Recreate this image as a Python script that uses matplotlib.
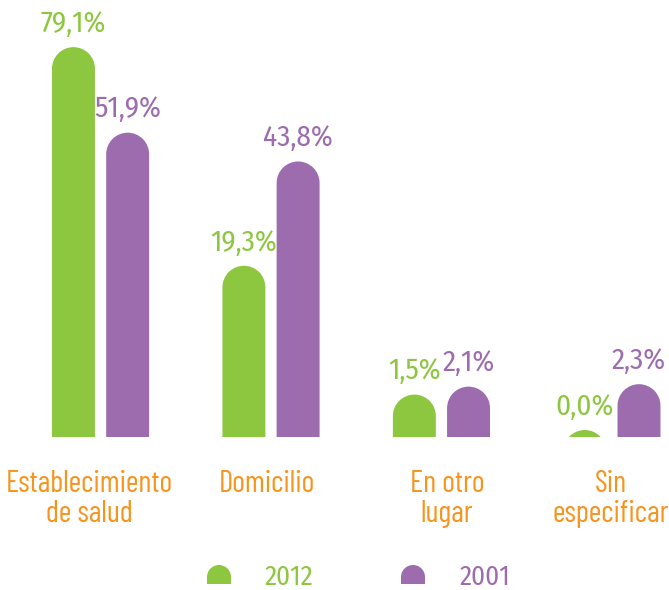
import numpy as np
import matplotlib
matplotlib.use('Agg')
from matplotlib import pyplot as plt
from matplotlib.path import Path
from matplotlib.patches import PathPatch
from matplotlib.transforms import IdentityTransform

categories = ['Establecimiento\nde salud', 'Domicilio', 'En otro\nlugar', 'Sin\nespecificar']
years = ['2012', '2001']
values_2012 = [79.1, 19.3, 1.5, 0.0]
values_2001 = [51.9, 43.8, 2.1, 2.3]
labels_2012 = ['79,1%', '19,3%', '1,5%', '0,0%']
labels_2001 = ['51,9%', '43,8%', '2,1%', '2,3%']

green = '#8DC63F'
purple = '#9D6CAE'
orange = '#F7941D'
num_font = ['Fira Sans Condensed', 'DejaVu Sans']
cat_font = ['Barlow Condensed', 'Fira Sans Extra Condensed', 'DejaVu Sans']

W, H = 669, 590
fig = plt.figure(figsize=(W / 100, H / 100), dpi=100)
# axes bottom = bar baseline
ax = fig.add_axes([0, (H - 437) / H, 1, 437 / H])

# power scale, the infographic bars are not proportional to value
p = 0.6
fwd = lambda v: np.sign(v) * np.abs(v) ** p
inv = lambda v: np.sign(v) * np.abs(v) ** (1 / p)
ax.set_yscale('function', functions=(fwd, inv))
ax.set_ylim(-0.1, 96)
ax.set_xlim(-0.59, 3.335)
for s in ax.spines.values():
    s.set_visible(False)
ax.set_yticks([])
ax.set_xticks([])

x = np.arange(len(categories))
bw = 0.252
off = 0.159


def dome(x0, x1, yb, yt, color, parent):
    # rectangle with a half circle on top, pixel coords
    r = (x1 - x0) / 2
    cy = yt - r
    arc = Path.arc(0, 180)
    verts = [(x1, yb), (x1, cy)]
    codes = [Path.MOVETO, Path.LINETO]
    for v, c in zip(arc.vertices[1:], arc.codes[1:]):
        verts.append((x0 + r + v[0] * r, cy + v[1] * r))
        codes.append(c)
    verts += [(x0, yb), (x1, yb)]
    codes += [Path.LINETO, Path.CLOSEPOLY]
    pp = PathPatch(Path(verts, codes), facecolor=color, edgecolor='none',
                   transform=IdentityTransform())
    if parent is ax:
        ax.add_patch(pp)
    else:
        fig.add_artist(pp)


for i in range(len(categories)):
    for xc, val, lab, col in [(x[i] - off, values_2012[i], labels_2012[i], green),
                              (x[i] + off, values_2001[i], labels_2001[i], purple)]:
        (x0, yb) = ax.transData.transform((xc - bw / 2, ax.get_ylim()[0]))
        (x1, yt) = ax.transData.transform((xc + bw / 2, val))
        dome(x0, x1, yb - 2, yt, col, ax)
        ax.annotate(lab, (xc, val), xytext=(0, 11), textcoords='offset points',
                    ha='center', va='baseline', color=col, fontsize=21, family=num_font)

# category labels under each group
cat_dx = [-8, -3, 4, -1]
for i, cat in enumerate(categories):
    ax.annotate(cat, (x[i], 0), xycoords=ax.get_xaxis_transform(),
                xytext=(cat_dx[i], -23.5), textcoords='offset points', ha='center', va='top',
                color=orange, fontsize=22, family=cat_font,
                linespacing=1.12, annotation_clip=False)

# legend drawn by hand, pixel positions from the top-left corner
leg_dome_x = [207, 401]
leg_text_x = [265, 460]
for yr, col, dx, tx in zip(years, [green, purple], leg_dome_x, leg_text_x):
    dome(dx, dx + 24, H - 584, H - 565, col, fig)
    fig.text(tx / W, (H - 585) / H, yr, color=col, fontsize=19.5, family=num_font,
             ha='left', va='baseline')

plt.savefig('out.png', dpi=100)
